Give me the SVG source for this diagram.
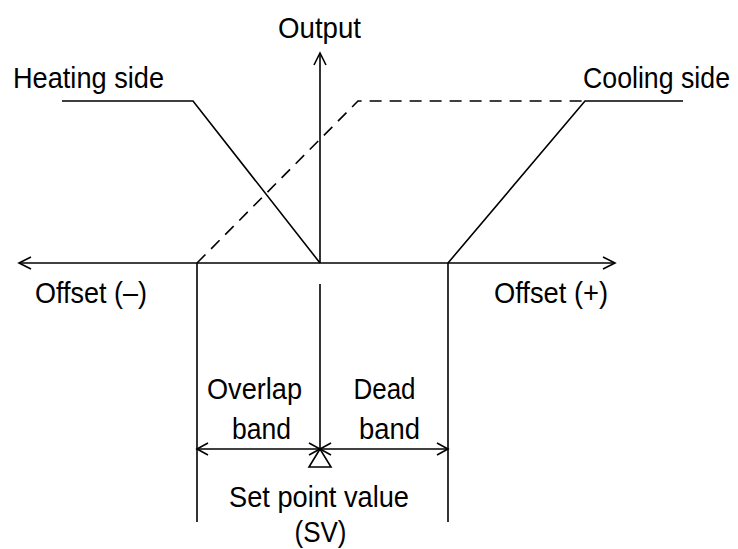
<svg xmlns="http://www.w3.org/2000/svg" width="738" height="549" viewBox="0 0 738 549">
<style>
.ln{stroke:#000;stroke-width:1.6;fill:none;stroke-linecap:butt}
.ds{stroke:#000;stroke-width:1.6;fill:none;stroke-dasharray:12 8}
.ah{stroke:#000;stroke-width:1.6;fill:none}
text{font-family:"Liberation Sans",Arial,sans-serif;font-size:29px;fill:#000}
</style>
<rect width="738" height="549" fill="#fff"/>
<g id="connectors">
<line class="ln" x1="19" y1="263" x2="615" y2="263"/>
<polyline class="ah" points="31,257 19,263 31,269"/>
<polyline class="ah" points="603,257 615,263 603,269"/>
<line class="ln" x1="320" y1="263" x2="320" y2="53"/>
<polyline class="ah" points="314,65 320,53 326,65"/>
<polyline class="ln" points="62,101 193,101 320,263"/>
<polyline class="ln" points="448,263 585,101 683,101"/>
<polyline class="ds" points="197,263 358,101 585,101"/>
<line class="ln" x1="197" y1="263" x2="197" y2="522"/>
<line class="ln" x1="448" y1="263" x2="448" y2="522"/>
<line class="ln" x1="320" y1="284" x2="320" y2="449"/>
<line class="ln" x1="197" y1="449" x2="448" y2="449"/>
<polyline class="ah" points="208,443 197,449 208,455"/>
<polyline class="ah" points="309,443 320,449 309,455"/>
<polyline class="ah" points="331,443 320,449 331,455"/>
<polyline class="ah" points="437,443 448,449 437,455"/>
<polygon class="ln" points="320,449 309,467 331,467"/>
</g>
<g id="output"><text x="319.5" y="37.5" text-anchor="middle" textLength="83" lengthAdjust="spacingAndGlyphs">Output</text></g>
<g id="heating"><text x="13" y="88" textLength="151" lengthAdjust="spacingAndGlyphs">Heating side</text></g>
<g id="cooling"><text x="730" y="88" font-size="27.5" text-anchor="end" textLength="147" lengthAdjust="spacingAndGlyphs">Cooling side</text></g>
<g id="offset-neg"><text x="35" y="303" textLength="112" lengthAdjust="spacingAndGlyphs">Offset (–)</text></g>
<g id="offset-pos"><text x="494" y="303" textLength="114" lengthAdjust="spacingAndGlyphs">Offset (+)</text></g>
<g id="overlap"><text x="254.5" y="399" text-anchor="middle" textLength="95" lengthAdjust="spacingAndGlyphs">Overlap</text><text x="261.5" y="439" text-anchor="middle" textLength="59" lengthAdjust="spacingAndGlyphs">band</text></g>
<g id="dead"><text x="384.5" y="399" text-anchor="middle" textLength="62" lengthAdjust="spacingAndGlyphs">Dead</text><text x="389.5" y="439" text-anchor="middle" textLength="61" lengthAdjust="spacingAndGlyphs">band</text></g>
<g id="sv"><text x="319" y="507" text-anchor="middle" textLength="180" lengthAdjust="spacingAndGlyphs">Set point value</text><text x="320.5" y="542" text-anchor="middle" textLength="52" lengthAdjust="spacingAndGlyphs">(SV)</text></g>
</svg>
